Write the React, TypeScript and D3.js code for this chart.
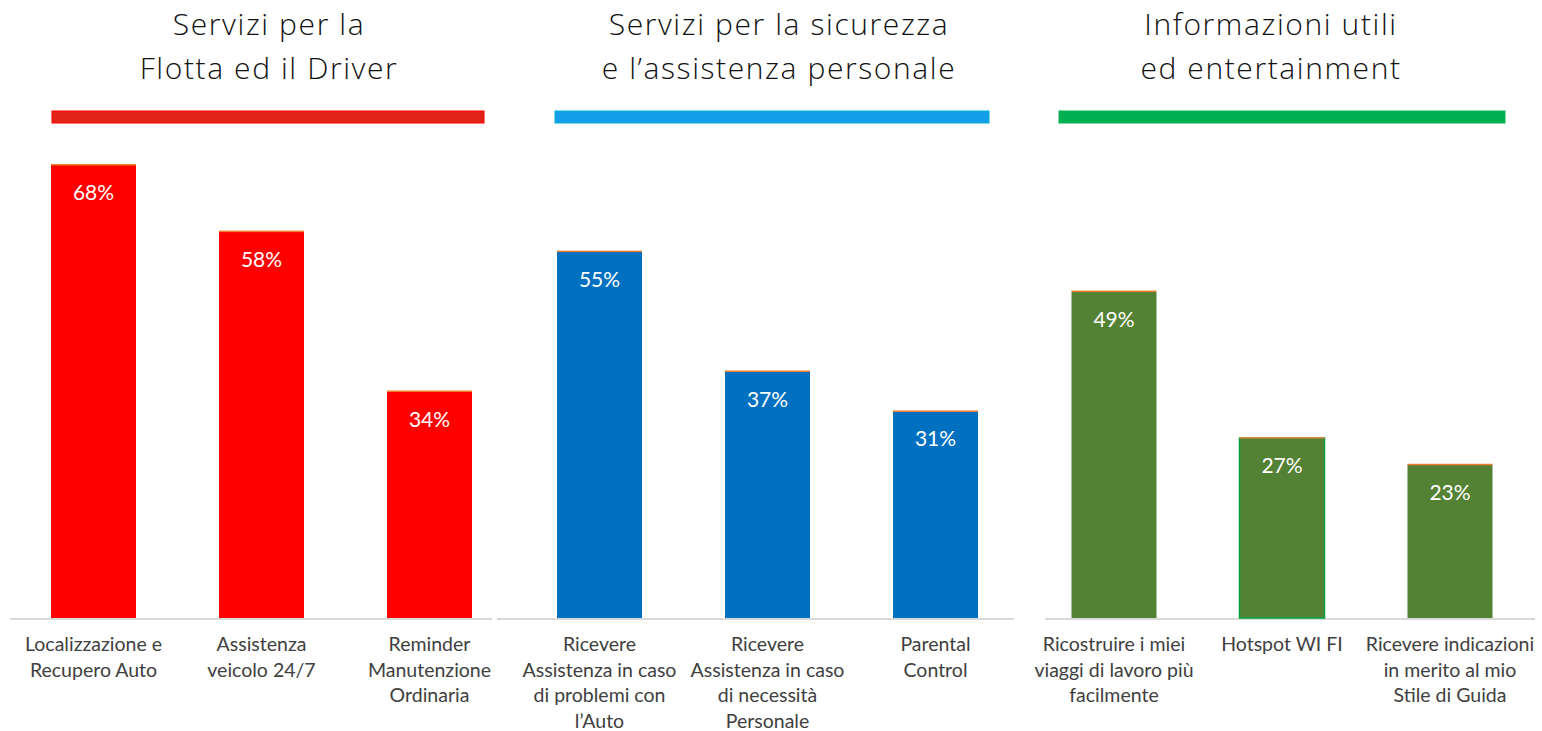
import React from "react";
import * as d3 from "d3";

const panelTitles = [
  ["Servizi per la", "Flotta ed il Driver"],
  ["Servizi per la sicurezza", "e l\u2019assistenza personale"],
  ["Informazioni utili", "ed entertainment"],
];

const fleetCategories = [
  ["Localizzazione e", "Recupero Auto"],
  ["Assistenza", "veicolo 24/7"],
  ["Reminder", "Manutenzione", "Ordinaria"],
];
const fleetValues = [68, 58, 34];

const safetyCategories = [
  ["Ricevere", "Assistenza in caso", "di problemi con", "l\u2019Auto"],
  ["Ricevere", "Assistenza in caso", "di necessit\u00e0", "Personale"],
  ["Parental", "Control"],
];
const safetyValues = [55, 37, 31];

const infoCategories = [
  ["Ricostruire i miei", "viaggi di lavoro pi\u00f9", "facilmente"],
  ["Hotspot WI FI"],
  ["Ricevere indicazioni", "in merito al mio", "Stile di Guida"],
];
const infoValues = [49, 27, 23];

const W = 1542;
const H = 731;
const FONT = "Lato, 'Open Sans', sans-serif";
const TITLE_FONT = "'Open Sans', Lato, sans-serif";

const panels = [
  {
    cats: fleetCategories, vals: fleetValues, x0: 9.5,
    color: "#FF0000",
    header: { x1: 52, x2: 484, fill: "#E2231A", stroke: "#FF0000" },
    base: [10, 492], titleX: 269,
  },
  {
    cats: safetyCategories, vals: safetyValues, x0: 515.5,
    color: "#0070C0",
    header: { x1: 555, x2: 989, fill: "#129FE9", stroke: "#00B0D0" },
    base: [497, 1014], titleX: 779,
  },
  {
    cats: infoCategories, vals: infoValues, x0: 1030,
    color: "#548235",
    header: { x1: 1059, x2: 1505, fill: "#00AF50", stroke: "#00AF50" },
    base: [1045, 1535], titleX: 1271,
  },
];

export default function App() {
  const y = d3.scaleLinear().domain([0, 68]).range([618, 165]);
  return (
    <svg width={W} height={H} style={{ display: "block", position: "absolute", left: 0, top: 0 }} fontFamily={FONT}>
      <rect width={W} height={H} fill="#fff" />
      {panels.map((p, pi) => {
        const x = d3
          .scaleBand<number>()
          .domain(d3.range(p.cats.length))
          .range([p.x0, p.x0 + 504])
          .paddingInner(0.494)
          .paddingOuter(0.247);
        return (
          <g key={pi}>
            {panelTitles[pi].map((t, li) => (
              <text key={li} x={p.titleX} y={35 + li * 44} textAnchor="middle" fontSize={30}
                fontFamily={TITLE_FONT} fontWeight={300} letterSpacing={1.6} fill="#111">
                {t}
              </text>
            ))}
            <rect
              x={p.header.x1}
              y={111}
              width={p.header.x2 - p.header.x1}
              height={12}
              fill={p.header.fill}
              stroke={p.header.stroke}
              strokeWidth={1}
            />
            <line x1={p.base[0]} x2={p.base[1]} y1={619} y2={619} stroke="#D9D9D9" strokeWidth={2} />
            {p.vals.map((v, i) => {
              const bx = x(i)!;
              const bw = x.bandwidth();
              const top = y(v);
              const special = pi === 2 && i === 1;
              return (
                <g key={i}>
                  <rect x={bx} y={top} width={bw} height={y(0) - top} fill={p.color}
                    stroke={special ? "#00A040" : "none"} strokeWidth={special ? 1.5 : 0} />
                  <rect x={bx} y={top - 1} width={bw} height={1.5} fill="#ED7D31" />
                  <text x={bx + bw / 2} y={top + 35} textAnchor="middle" fontSize={21} fill="#fff">
                    {v}%
                  </text>
                  {p.cats[i].map((line, li) => (
                    <text key={li} x={bx + bw / 2} y={651 + li * 25.5} textAnchor="middle" fontSize={19.5} fill="#404040">
                      {line}
                    </text>
                  ))}
                </g>
              );
            })}
          </g>
        );
      })}
    </svg>
  );
}
